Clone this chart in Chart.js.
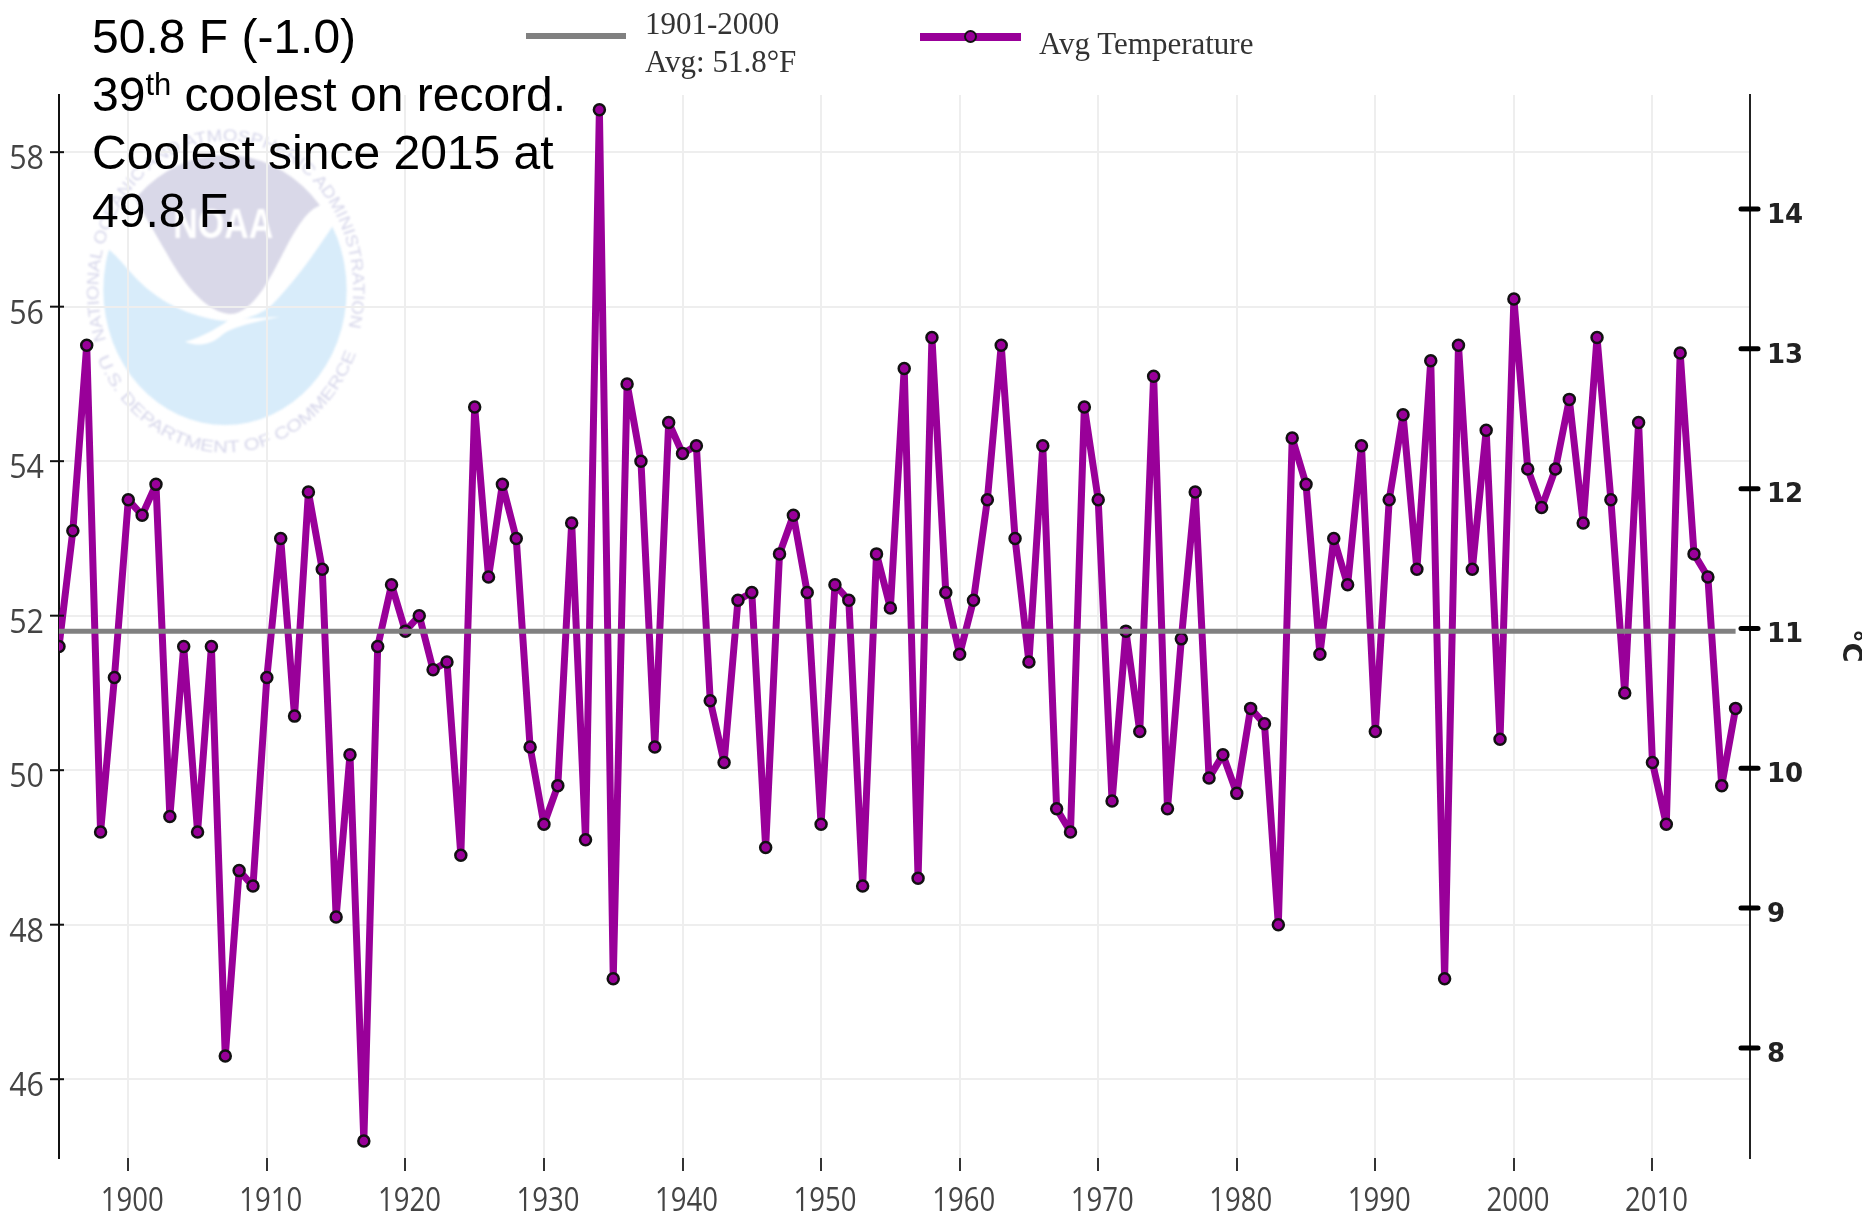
<!DOCTYPE html>
<html>
<head>
<meta charset="utf-8">
<title>Avg Temperature</title>
<script src="https://cdn.jsdelivr.net/npm/chart.js@4/dist/chart.umd.min.js"></script>
<style>
    html, body { margin: 0; padding: 0; background: #fff; }
    #wrap { position: relative; width: 1862px; height: 1216px; overflow: hidden; background: #fff; }
    #logo { position: absolute; left: 70px; top: 110px; width: 320px; height: 360px; filter: blur(0.8px); }
    #chart { position: absolute; left: 0; top: 0; filter: blur(0.7px); }
    #note { position: absolute; left: 92px; top: 8px; font: 48px/58px "Liberation Sans", Arial, sans-serif; color: #000; white-space: nowrap; }
    #note sup { font-size: 31px; line-height: 0; vertical-align: 16px; }
    .legend-text { position: absolute; font: 31px/38px "Liberation Serif", serif; color: #333; white-space: nowrap; filter: blur(0.6px); }
    .swatch { position: absolute; filter: blur(0.5px); }
    #swatchAvg { left: 526px; top: 33px; width: 100px; height: 6px; background: #808080; }
    #swatchTemp { left: 920px; top: 33px; width: 101px; height: 8px; background: #990099; }
    #swatchDot { left: 964px; top: 30px; width: 9px; height: 9px; border: 2px solid #111; border-radius: 50%; background: #990099; }
</style>
</head>
<body>
<div id="wrap">
    <!-- NOAA watermark sits behind the transparent canvas -->
    <svg id="logo" viewBox="0 0 960 1080">
        <defs>
            <clipPath id="disc"><ellipse cx="465" cy="540" rx="365" ry="405"/></clipPath>
            <path id="arcTop" d="M 108 690 A 382 445 0 1 1 826 690"/>
            <path id="arcBottom" d="M 82 745 A 425 490 0 0 0 852 745"/>
        </defs>
        <g clip-path="url(#disc)">
            <path fill="#d8ecfa" d="M 100 400 L 110 415 C 170 450 220 590 440 630 C 500 640 560 620 600 590 C 680 510 740 420 790 345 L 840 300 L 840 960 L 90 960 Z"/>
            <path fill="#d9d8e8" d="M 150 100 L 780 100 L 755 285 C 690 300 640 440 590 520 C 560 570 520 612 480 612 C 420 610 350 540 290 430 C 250 360 215 300 180 240 Z"/>
            <path fill="#fff" d="M 440 630 L 630 620 C 560 635 480 650 450 680 C 420 705 380 710 345 695 C 400 680 450 650 490 620 Z"/>
        </g>
        <text x="310" y="385" fill="#fff" font-family="Liberation Sans" font-weight="bold" font-size="130" textLength="300" lengthAdjust="spacingAndGlyphs">NOAA</text>
        <text fill="#d6d6ea" font-family="Liberation Sans" font-size="50"><textPath href="#arcTop" textLength="1570" lengthAdjust="spacingAndGlyphs">NATIONAL OCEANIC AND ATMOSPHERIC ADMINISTRATION</textPath></text>
        <text fill="#d6d6ea" font-family="Liberation Sans" font-size="50"><textPath href="#arcBottom" textLength="1030" lengthAdjust="spacingAndGlyphs">U.S. DEPARTMENT OF COMMERCE</textPath></text>
    </svg>

    <canvas id="chart" width="1862" height="1216"></canvas>

    <div class="swatch" id="swatchAvg"></div>
    <div class="legend-text" style="left:645px;top:5px">1901-2000<br>Avg: 51.8°F</div>
    <div class="swatch" id="swatchTemp"></div>
    <div class="swatch" id="swatchDot"></div>
    <div class="legend-text" style="left:1039px;top:25px">Avg Temperature</div>

    <div id="note">50.8 F (-1.0)<br>39<sup>th</sup> coolest on record.<br>Coolest since 2015 at<br>49.8 F.</div>
</div>

<script>
// Data
const years = [
    1895, 1896, 1897, 1898, 1899, 1900, 1901, 1902, 1903, 1904, 1905, 1906, 1907, 1908, 1909,
    1910, 1911, 1912, 1913, 1914, 1915, 1916, 1917, 1918, 1919, 1920, 1921, 1922, 1923, 1924,
    1925, 1926, 1927, 1928, 1929, 1930, 1931, 1932, 1933, 1934, 1935, 1936, 1937, 1938, 1939,
    1940, 1941, 1942, 1943, 1944, 1945, 1946, 1947, 1948, 1949, 1950, 1951, 1952, 1953, 1954,
    1955, 1956, 1957, 1958, 1959, 1960, 1961, 1962, 1963, 1964, 1965, 1966, 1967, 1968, 1969,
    1970, 1971, 1972, 1973, 1974, 1975, 1976, 1977, 1978, 1979, 1980, 1981, 1982, 1983, 1984,
    1985, 1986, 1987, 1988, 1989, 1990, 1991, 1992, 1993, 1994, 1995, 1996, 1997, 1998, 1999,
    2000, 2001, 2002, 2003, 2004, 2005, 2006, 2007, 2008, 2009, 2010, 2011, 2012, 2013, 2014,
    2015, 2016
];
const avgTemperature = [
    51.6, 53.1, 55.5, 49.2, 51.2, 53.5, 53.3, 53.7, 49.4, 51.6, 49.2, 51.6, 46.3, 48.7, 48.5,
    51.2, 53.0, 50.7, 53.6, 52.6, 48.1, 50.2, 45.2, 51.6, 52.4, 51.8, 52.0, 51.3, 51.4, 48.9,
    54.7, 52.5, 53.7, 53.0, 50.3, 49.3, 49.8, 53.2, 49.1, 58.55, 47.3, 55.0, 54.0, 50.3, 54.5,
    54.1, 54.2, 50.9, 50.1, 52.2, 52.3, 49.0, 52.8, 53.3, 52.3, 49.3, 52.4, 52.2, 48.5, 52.8,
    52.1, 55.2, 48.6, 55.6, 52.3, 51.5, 52.2, 53.5, 55.5, 53.0, 51.4, 54.2, 49.5, 49.2, 54.7,
    53.5, 49.6, 51.8, 50.5, 55.1, 49.5, 51.7, 53.6, 49.9, 50.2, 49.7, 50.8, 50.6, 48.0, 54.3,
    53.7, 51.5, 53.0, 52.4, 54.2, 50.5, 53.5, 54.6, 52.6, 55.3, 47.3, 55.5, 52.6, 54.4, 50.4,
    56.1, 53.9, 53.4, 53.9, 54.8, 53.2, 55.6, 53.5, 51.0, 54.5, 50.1, 49.3, 55.4, 52.8, 52.5,
    49.8, 50.8
];
const centuryAverage = 51.8;
const yearTicks = [1900, 1910, 1920, 1930, 1940, 1950, 1960, 1970, 1980, 1990, 2000, 2010];
const fahrenheitTicks = [46, 48, 50, 52, 54, 56, 58];
const celsiusTicks = [8, 9, 10, 11, 12, 13, 14];

const PLOT = { left: 59, right: 1750, top: 95, bottom: 1158 };

function useTicks(values) {
    return axis => { axis.ticks = values.map(value => ({ value })); };
}

// The year and Fahrenheit labels are squeezed sideways, no narrow font is installed
function narrowLabel(ctx, text, x, y, align, squeeze) {
    ctx.save();
    ctx.translate(x, y);
    ctx.scale(squeeze, 1);
    ctx.textAlign = align;
    ctx.fillText(text, 0, 0);
    ctx.restore();
}

// Ticks crossing the two vertical axes, the narrow labels, and the rotated unit cut off by the page edge
const axisMarks = {
    id: 'axisMarks',
    afterDraw(chart) {
        const { ctx, scales } = chart;
        ctx.save();
        ctx.strokeStyle = '#111';
        ctx.lineWidth = 2;
        fahrenheitTicks.forEach(v => {
            const y = scales.y.getPixelForValue(v);
            ctx.beginPath();
            ctx.moveTo(PLOT.left - 9, y);
            ctx.lineTo(PLOT.left + 5, y);
            ctx.stroke();
        });
        ctx.lineWidth = 5;
        ctx.lineCap = 'round';
        ctx.strokeStyle = '#000';
        celsiusTicks.forEach(v => {
            const y = scales.y1.getPixelForValue(v);
            ctx.beginPath();
            ctx.moveTo(PLOT.right - 9, y);
            ctx.lineTo(PLOT.right + 8, y);
            ctx.stroke();
        });

        ctx.fillStyle = '#444';
        ctx.font = '32px "Open Sans", sans-serif';
        ctx.textBaseline = 'middle';
        yearTicks.forEach(v => {
            narrowLabel(ctx, String(v), scales.x.getPixelForValue(v) + 4, 1202, 'center', 0.86);
        });
        fahrenheitTicks.forEach(v => {
            narrowLabel(ctx, String(v), 44, scales.y.getPixelForValue(v) + 8, 'right', 0.95);
        });

        ctx.translate(1843, 646);
        ctx.rotate(Math.PI / 2);
        ctx.fillStyle = '#222';
        ctx.font = 'bold 27px "DejaVu Sans"';
        ctx.textAlign = 'center';
        ctx.textBaseline = 'alphabetic';
        ctx.fillText('°C', 0, 0);
        ctx.restore();
    }
};

new Chart(document.getElementById('chart'), {
    type: 'line',
    data: {
        datasets: [
            {
                label: '1901-2000 Avg: 51.8°F',
                data: years.map(x => ({ x, y: centuryAverage })),
                borderColor: '#808080',
                borderWidth: 5,
                pointRadius: 0,
                order: 0
            },
            {
                label: 'Avg Temperature',
                data: years.map((x, i) => ({ x, y: avgTemperature[i] })),
                borderColor: '#990099',
                borderWidth: 7,
                borderJoinStyle: 'round',
                pointRadius: 5.5,
                pointBorderWidth: 2.5,
                pointBackgroundColor: '#990099',
                pointBorderColor: '#111',
                clip: 0,
                order: 1
            }
        ]
    },
    options: {
        responsive: false,
        animation: false,
        layout: { padding: { top: PLOT.top, left: 0, right: 0, bottom: 0 } },
        plugins: { legend: { display: false }, title: { display: false }, tooltip: { enabled: false } },
        scales: {
            x: {
                type: 'linear',
                min: 1895,
                max: 2017.04,
                afterBuildTicks: useTicks(yearTicks),
                afterFit: s => { s.height = 1216 - PLOT.bottom; },
                border: { display: false },
                grid: { color: '#eeeeee', lineWidth: 2, tickColor: '#333', tickWidth: 2, tickLength: 13 },
                ticks: { display: false }
            },
            y: {
                position: 'left',
                min: 44.98,
                max: 58.74,
                afterBuildTicks: useTicks(fahrenheitTicks),
                afterFit: s => { s.width = PLOT.left; },
                border: { color: '#111', width: 2 },
                grid: { color: '#eeeeee', lineWidth: 2, drawTicks: false },
                ticks: { display: false }
            },
            y1: {
                position: 'right',
                min: 7.213,
                max: 14.815,
                afterBuildTicks: useTicks(celsiusTicks),
                afterFit: s => { s.width = 1862 - PLOT.right; },
                border: { color: '#222', width: 2 },
                grid: { display: false, drawTicks: false },
                ticks: {
                    padding: 17,
                    color: '#222',
                    labelOffset: 7,
                    font: { family: '"DejaVu Sans"', size: 26, weight: 'bold' }
                }
            }
        }
    },
    plugins: [axisMarks]
});
</script>
</body>
</html>
